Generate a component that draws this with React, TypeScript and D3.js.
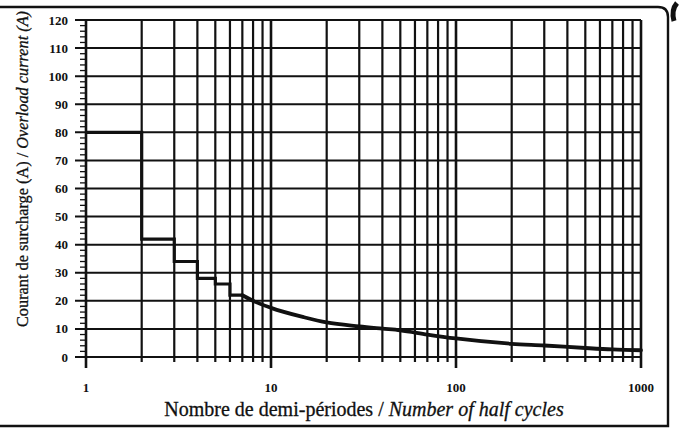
import React from 'react';
import * as d3 from 'd3';

// step section (half cycles -> overload current)
const stepX = [1, 2, 3, 4, 5, 6, 7];
const stepY = [80, 42, 34, 28, 26, 22, 22];

// smooth section
const curveX = [7, 8, 10, 15, 20, 30, 40, 50, 70, 100, 200, 300, 500, 700, 1000];
const curveY = [22, 20, 17.5, 14.2, 12.3, 10.9, 10.1, 9.5, 8, 6.6, 4.7, 4.1, 3.2, 2.7, 2.4];

const yTicks = [0, 10, 20, 30, 40, 50, 60, 70, 80, 90, 100, 110, 120];
const xLabels = [1, 10, 100, 1000];

const W = 679;
const H = 428;
const ink = '#111';

export default function App() {
  const x = d3.scaleLog().domain([1, 1000]).range([86, 641]);
  const y = d3.scaleLinear().domain([0, 120]).range([357, 20]);

  // every integer multiple of each decade
  const xGrid: number[] = [];
  for (let d = 1; d <= 100; d *= 10) {
    for (let k = 1; k < 10; k++) xGrid.push(d * k);
  }
  xGrid.push(1000);
  const yMinor = d3.range(0, 121, 2).filter((v) => v % 10 !== 0);

  const stepLine = d3
    .line<number>()
    .x((_, i) => x(stepX[i]))
    .y((d) => y(d))
    .curve(d3.curveStepAfter);

  const smoothLine = d3
    .line<number>()
    .x((_, i) => x(curveX[i]))
    .y((d) => y(d))
    .curve(d3.curveMonotoneX);

  const serif = '"Liberation Serif", "Times New Roman", serif';

  return (
    <div style={{ position: 'absolute', left: 0, top: 0 }}>
      <svg width={W} height={H} style={{ display: 'block', background: '#fff' }}>
        {/* outer frame */}
        <path
          d={`M0,7 H658 Q668,7 668,17 V426 H0`}
          fill="none"
          stroke={ink}
          strokeWidth={2.4}
        />
        <path d="M677,3 Q671,10 674,21" fill="none" stroke={ink} strokeWidth={5} />

        {/* horizontal grid */}
        {yTicks.map((t) => (
          <line key={'h' + t} x1={75} x2={x(1000)} y1={y(t)} y2={y(t)} stroke={ink} strokeWidth={2} />
        ))}
        {yMinor.map((t) => (
          <line key={'m' + t} x1={80} x2={86} y1={y(t)} y2={y(t)} stroke={ink} strokeWidth={1.3} />
        ))}

        {/* vertical grid */}
        {xGrid.map((v) => {
          const major = xLabels.includes(v);
          return (
            <line
              key={'v' + v}
              x1={x(v)}
              x2={x(v)}
              y1={y(120)}
              y2={major ? 368 : 362}
              stroke={ink}
              strokeWidth={major ? 2.6 : 2.2}
            />
          );
        })}

        {/* curve */}
        <path d={stepLine(stepY) || ''} fill="none" stroke={ink} strokeWidth={3.2} />
        <path d={smoothLine(curveY) || ''} fill="none" stroke={ink} strokeWidth={3.8} strokeLinecap="round" />

        {/* y tick labels */}
        {yTicks.map((t) => (
          <text
            key={'yl' + t}
            x={68}
            y={y(t)}
            dy="0.35em"
            textAnchor="end"
            fontFamily={serif}
            fontWeight="bold"
            fontSize={13}
            fill={ink}
          >
            {t}
          </text>
        ))}

        {/* x tick labels */}
        {xLabels.map((v) => (
          <text
            key={'xl' + v}
            x={x(v)}
            y={392}
            textAnchor="middle"
            fontFamily={serif}
            fontWeight="bold"
            fontSize={13}
            fill={ink}
          >
            {v}
          </text>
        ))}

        {/* axis titles */}
        <text
          x={364}
          y={416}
          textAnchor="middle"
          fontFamily={serif}
          fontSize={20}
          fill={ink}
          stroke={ink}
          strokeWidth={0.3}
        >
          Nombre de demi-périodes /{' '}
          <tspan fontStyle="italic">Number of half cycles</tspan>
        </text>
        <text
          transform="translate(28,169) rotate(-90)"
          textAnchor="middle"
          fontFamily={serif}
          fontSize={16.3}
          fill={ink}
          stroke={ink}
          strokeWidth={0.3}
        >
          Courant de surcharge (A) /{' '}
          <tspan fontStyle="italic">Overload current (A)</tspan>
        </text>
      </svg>
    </div>
  );
}
